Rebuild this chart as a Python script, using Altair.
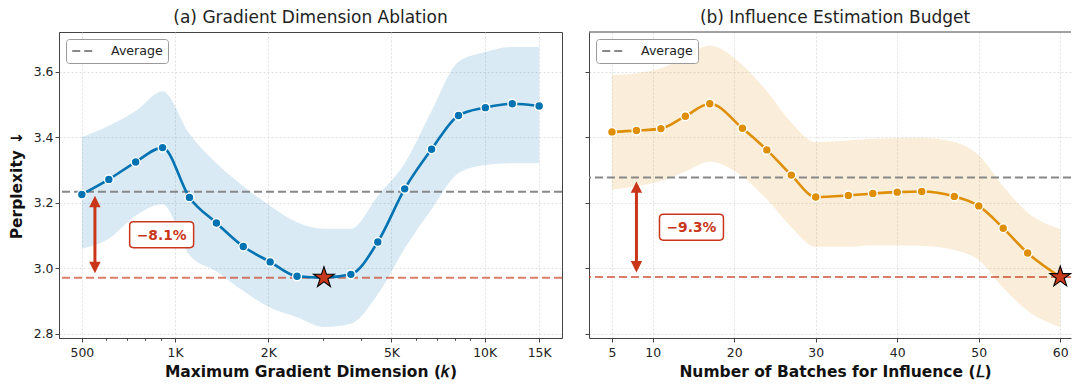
import altair as alt
import pandas as pd

# ---------------- data: panel (a) ----------------
k_values = [500, 611, 746, 911, 1113, 1360, 1661, 2029, 2478, 3027, 3698, 4517,
            5518, 6740, 8233, 10056, 12284, 15000]
ppl_a = [3.225, 3.271, 3.324, 3.368, 3.216, 3.138, 3.066, 3.019, 2.975, 2.971,
         2.981, 3.080, 3.242, 3.363, 3.466, 3.490, 3.502, 3.495]
upper_a = [3.40, 3.435, 3.48, 3.54, 3.41, 3.32, 3.25, 3.19, 3.14, 3.12,
           3.12, 3.22, 3.32, 3.48, 3.63, 3.66, 3.675, 3.675]
lower_a = [3.06, 3.09, 3.16, 3.195, 3.04, 2.99, 2.93, 2.88, 2.85, 2.82,
           2.83, 2.92, 3.06, 3.18, 3.29, 3.315, 3.32, 3.32]

# ---------------- data: panel (b) ----------------
L_values = [5, 8, 11, 14, 17, 21, 24, 27, 30, 34, 37, 40, 43, 47, 50, 53, 56, 60]
ppl_b = [3.416, 3.420, 3.426, 3.464, 3.502, 3.427, 3.361, 3.284, 3.217, 3.222,
         3.228, 3.232, 3.234, 3.219, 3.190, 3.122, 3.046, 2.973]
upper_b = [3.59, 3.595, 3.61, 3.645, 3.68, 3.62, 3.54, 3.445, 3.385, 3.39,
           3.395, 3.397, 3.398, 3.385, 3.345, 3.25, 3.17, 3.12]
lower_b = [3.24, 3.25, 3.265, 3.295, 3.325, 3.28, 3.21, 3.125, 3.065, 3.065,
           3.07, 3.07, 3.068, 3.055, 3.025, 2.94, 2.87, 2.82]

# ---------------- ticks / text ----------------
k_major = [500, 1000, 2000, 5000, 10000, 15000]
k_minor = [600, 700, 800, 900, 3000, 4000, 6000, 7000, 8000, 9000]
L_ticks = [5, 10, 20, 30, 40, 50, 60]
y_ticks = [2.8, 3.0, 3.2, 3.4, 3.6]
titles = ["(a) Gradient Dimension Ablation", "(b) Influence Estimation Budget"]
x_titles = ["Maximum Gradient Dimension (\U0001D458)", "Number of Batches for Influence (\U0001D43F)"]
y_title = "Perplexity ↓"
legend_label = "Average"
drop_labels = ["\u22128.1%", "\u22129.3%"]
arrow_x = [551, 8]
label_pos = [(905, 3.102), (14.75, 3.125)]

BLUE = "#0173b2"
ORANGE = "#de8f05"
RED = "#c8381a"
ARROW = "#c9361a"
GRAY = "#888888"
SPINE = "#444444"
FONT = "DejaVu Sans"

STAR = ("M0,-1 L0.2245,-0.309 L0.951,-0.309 L0.363,0.118 L0.588,0.809 L0,0.382 "
        "L-0.588,0.809 L-0.363,0.118 L-0.951,-0.309 L-0.2245,-0.309 Z")
HEAD_UP = "M0,0 L1,2 L-1,2 Z"
HEAD_DOWN = "M0,0 L1,-2 L-1,-2 Z"
BOX = ("M-2.16,-1 L2.16,-1 Q2.46,-1 2.46,-0.7 L2.46,0.7 Q2.46,1 2.16,1 L-2.16,1 "
       "Q-2.46,1 -2.46,0.7 L-2.46,-0.7 Q-2.46,-1 -2.16,-1 Z")
LEG_SYMBOL = "M-1,0 L3,0"

PX_PER_UNIT_Y = 327.5
PLOT_H = 306
Y_TOP = 3.721
Y_DOMAIN = [Y_TOP - PLOT_H / PX_PER_UNIT_Y, Y_TOP]


def panel(xs, ys, lo, hi, color, xscale, xaxis, yaxis, ax_x, lab, text, title,
          width, show_stroke, title_dx):
    df = pd.DataFrame({"x": xs, "y": ys, "lo": lo, "hi": hi})
    best = min(range(len(ys)), key=lambda i: ys[i])
    avg = sum(ys) / len(ys)
    best_val = ys[best]
    X = alt.X("x:Q", scale=xscale, axis=xaxis)
    yscale = alt.Scale(domain=Y_DOMAIN, nice=False, zero=False)

    band = alt.Chart(df).mark_area(interpolate="monotone", color=color, opacity=0.15).encode(
        x=X, y=alt.Y("lo:Q", scale=yscale, axis=yaxis), y2="hi:Q")

    avg_df = pd.DataFrame({"y": [avg], "lbl": [legend_label]})
    avg_rule = alt.Chart(avg_df).mark_rule(strokeDash=[8, 4], strokeWidth=2).encode(
        y=alt.Y("y:Q", scale=yscale),
        color=alt.Color("lbl:N", scale=alt.Scale(domain=[legend_label], range=[GRAY]),
                        legend=alt.Legend(orient="top-left", offset=7, title=None,
                                          symbolType=LEG_SYMBOL, symbolStrokeWidth=2.2,
                                          symbolDash=[8, 4], symbolSize=132,
                                          symbolStrokeColor=GRAY,
                                          labelFont=FONT, labelFontSize=12.6,
                                          labelColor="#222", labelOffset=26,
                                          fillColor="white", strokeColor="#9a9a9a",
                                          cornerRadius=3, padding=5)))

    best_df = pd.DataFrame({"y": [best_val]})
    best_rule = alt.Chart(best_df).mark_rule(color=RED, opacity=0.65, strokeDash=[8, 4],
                                             strokeWidth=2).encode(y=alt.Y("y:Q", scale=yscale))

    line = alt.Chart(df).mark_line(interpolate="monotone", color=color, strokeWidth=2.6).encode(
        x=X, y=alt.Y("y:Q", scale=yscale))

    pts_df = df.drop(index=best)
    pts = alt.Chart(pts_df).mark_circle(size=78, color=color, opacity=1, stroke="white",
                                        strokeWidth=1.4).encode(x=X, y=alt.Y("y:Q", scale=yscale))

    star_df = df.iloc[[best]]
    star = alt.Chart(star_df).mark_point(shape=STAR, size=480, filled=True, fill=RED,
                                         stroke="black", strokeWidth=1.1, opacity=1).encode(
        x=X, y=alt.Y("y:Q", scale=yscale))

    arr_df = pd.DataFrame({"x": [ax_x], "top": [avg], "bot": [best_val]})
    shaft = alt.Chart(arr_df).mark_rule(color=ARROW, strokeWidth=3, yOffset=9, y2Offset=-9).encode(
        x="x:Q", y=alt.Y("top:Q", scale=yscale), y2="bot:Q")
    head_up = alt.Chart(arr_df).mark_point(shape=HEAD_UP, size=130, filled=True, color=ARROW,
                                           opacity=1, yOffset=4).encode(
        x="x:Q", y=alt.Y("top:Q", scale=yscale))
    head_dn = alt.Chart(arr_df).mark_point(shape=HEAD_DOWN, size=130, filled=True, color=ARROW,
                                           opacity=1, yOffset=-4.5).encode(
        x="x:Q", y=alt.Y("bot:Q", scale=yscale))

    lab_df = pd.DataFrame({"x": [lab[0]], "y": [lab[1]], "t": [text]})
    box = alt.Chart(lab_df).mark_point(shape=BOX, size=676, filled=True, fill="white",
                                       stroke=ARROW, strokeWidth=1.5, opacity=1).encode(
        x="x:Q", y=alt.Y("y:Q", scale=yscale))
    txt = alt.Chart(lab_df).mark_text(font=FONT, fontSize=13.8, fontWeight="bold", color=ARROW,
                                      align="center", baseline="middle", dy=1).encode(
        x="x:Q", y=alt.Y("y:Q", scale=yscale), text="t:N")

    layers = [band, avg_rule, best_rule, line, pts, star, shaft, head_up, head_dn, box, txt]
    if not show_stroke:
        top = alt.Chart(best_df).mark_rule(color=SPINE, strokeWidth=1).encode(y=alt.value(0))
        layers.append(top)
    ch = alt.layer(*layers).properties(
        width=width, height=PLOT_H,
        title=alt.TitleParams(title, fontSize=17, fontWeight="normal", font=FONT,
                              color="#222", offset=5, dx=title_dx),
        view=alt.ViewBackground(stroke=SPINE if show_stroke else "transparent", strokeWidth=1),
    )
    return ch


major_test = " || ".join(f"datum.value == {v}" for v in k_major)

xscale_a = alt.Scale(type="log", domain=[421.8, 17780], nice=False)
xaxis_a = alt.Axis(values=k_major + k_minor, title=x_titles[0],
                   labelExpr=f"({major_test}) ? (datum.value >= 1000 ? (datum.value / 1000) + 'K' : '' + datum.value) : ''",
                   tickSize={"condition": {"test": major_test, "value": 4}, "value": 2.2},
                   gridOpacity={"condition": {"test": major_test, "value": 1}, "value": 0})
yaxis_a = alt.Axis(values=y_ticks, format=".1f", title=y_title, titlePadding=9, labelPadding=2)

W_A = 503
W_B = 482
PX_L = 8.15
L_MIN = 5 - 23 / PX_L
xscale_b = alt.Scale(domain=[L_MIN, L_MIN + W_B / PX_L], nice=False, zero=False)
xaxis_b = alt.Axis(values=L_ticks, title=x_titles[1], titleX=W_B / 2 + 5)
yaxis_b = alt.Axis(values=y_ticks, labels=False, title=None)

left = panel(k_values, ppl_a, lower_a, upper_a, BLUE, xscale_a, xaxis_a, yaxis_a,
             arrow_x[0], label_pos[0], drop_labels[0], titles[0], W_A, True, 0)
right = panel(L_values, ppl_b, lower_b, upper_b, ORANGE, xscale_b, xaxis_b, yaxis_b,
              arrow_x[1], label_pos[1], drop_labels[1], titles[1], W_B, False, 5)

chart = alt.hconcat(left, right, spacing=20).resolve_scale(
    x="independent", y="independent", color="independent"
).resolve_legend(color="independent").properties(
    padding={"left": 0, "top": 0, "right": 0, "bottom": 0}
).configure_axis(
    labelFont=FONT, titleFont=FONT, labelFontSize=12.4, titleFontSize=15.5,
    titleFontWeight="bold", labelColor="#222", titleColor="#111",
    tickColor=SPINE, domainColor=SPINE, tickSize=4, labelPadding=4,
    gridColor="#d9d9d9", gridDash=[2, 2], gridWidth=0.8, titlePadding=6
).configure_view(stroke=SPINE)

chart.save("out.html", embed_options={"renderer": "svg", "actions": False})
